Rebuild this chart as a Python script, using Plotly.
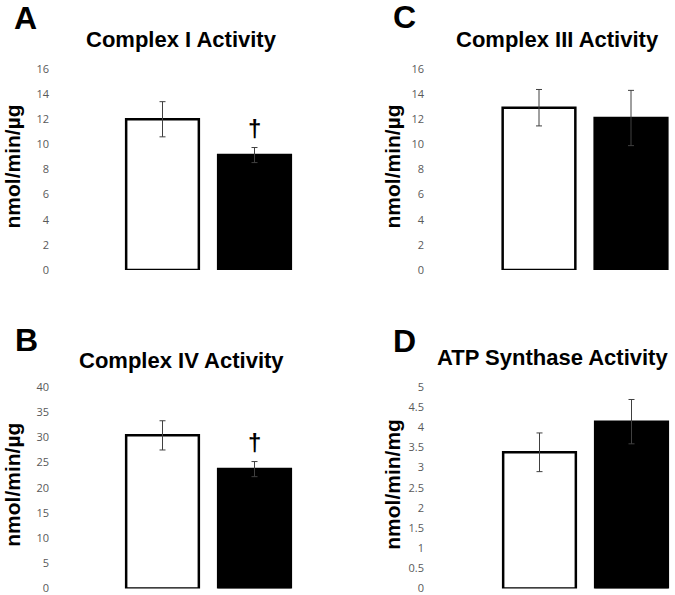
import plotly.graph_objects as go

W, H = 675, 595

# ── Data ─────────────────────────────────────────────────────────────────────
groups = ["Control", "Treated"]

complex1_mean = [12.0, 9.15]
complex1_err = [1.4, 0.6]

complex3_mean = [12.92, 12.1]
complex3_err = [1.45, 2.2]

complex4_mean = [30.4, 23.7]
complex4_err = [2.9, 1.5]

atp_mean = [3.38, 4.14]
atp_err = [0.48, 0.55]

bar_fill = ["white", "black"]
significant = [False, True]


def px_x(x):
    return x / W


def px_y(y):
    return 1 - y / H


fig = go.Figure()

# panel: letter, title, y title, means, errs, ymax, dtick,
#        x-domain px, y-domain px (bottom, top), first bar centre px,
#        letter pos, title pos, y-title x, daggers
panels = [
    ("A", "Complex I Activity", "nmol/min/µg", complex1_mean, complex1_err, 16, 2,
     (50, 300), (270, 69), 162.5, (25, 18), (181, 40), 13, True),
    ("C", "Complex III Activity", "nmol/min/µg", complex3_mean, complex3_err, 16, 2,
     (425, 675), (270, 69), 539.0, (404, 17), (557, 40), 393, False),
    ("B", "Complex IV Activity", "nmol/min/µg", complex4_mean, complex4_err, 40, 5,
     (50, 300), (588.5, 387), 162.5, (26, 340), (181, 360), 13, True),
    ("D", "ATP Synthase Activity", "nmol/min/mg", atp_mean, atp_err, 5, 0.5,
     (425, 675), (588.5, 387), 539.5, (404, 341), (552, 357), 393, False),
]

STEP = 92.0  # px between bar centres

for i, (letter, title, ytitle, means, errs, ymax, dtick, xd, yd, c0, lpos, tpos, ytx, dag) in enumerate(panels):
    n = "" if i == 0 else str(i + 1)
    xa, ya = "x" + n, "y" + n
    fig.add_trace(go.Bar(
        x=groups,
        y=means,
        xaxis=xa,
        yaxis=ya,
        width=0.79,
        marker=dict(color=bar_fill, line=dict(color="black", width=2.5)),
        error_y=dict(type="data", array=errs, visible=True,
                     color="#404040", thickness=1, width=3),
        showlegend=False,
        hoverinfo="skip",
    ))

    lo = -(c0 - xd[0]) / STEP
    hi = lo + (xd[1] - xd[0]) / STEP
    fig.layout["xaxis" + n] = dict(
        domain=[px_x(xd[0]), px_x(xd[1])],
        anchor=ya,
        range=[lo, hi],
        showticklabels=False,
        showgrid=False,
        zeroline=False,
        showline=False,
        ticks="",
    )
    fig.layout["yaxis" + n] = dict(
        domain=[px_y(yd[0]), px_y(yd[1])],
        anchor=xa,
        range=[0, ymax],
        dtick=dtick,
        showgrid=False,
        zeroline=False,
        showline=False,
        ticks="",
        ticklabeloverflow="allow",
        tickfont=dict(family="Open Sans", size=11, color="#595959"),
    )

    fig.add_annotation(text=f"<b>{letter}</b>", xref="paper", yref="paper",
                       x=px_x(lpos[0]), y=px_y(lpos[1]), xanchor="center", yanchor="middle",
                       showarrow=False,
                       font=dict(family="Liberation Sans", size=32, color="black"))
    fig.add_annotation(text=f"<b>{title}</b>", xref="paper", yref="paper",
                       x=px_x(tpos[0]), y=px_y(tpos[1]), xanchor="center", yanchor="middle",
                       showarrow=False,
                       font=dict(family="Liberation Sans", size=22, color="black"))
    fig.add_annotation(text=f"<b>{ytitle}</b>", xref="paper", yref="paper",
                       x=px_x(ytx), y=(px_y(yd[0]) + px_y(yd[1])) / 2 + 0.005,
                       xanchor="center", yanchor="middle",
                       textangle=-90, showarrow=False,
                       font=dict(family="Liberation Sans", size=21, color="black"))

    if dag:
        for g, m, e, s in zip(groups, means, errs, significant):
            if s:
                fig.add_annotation(text="<b>†</b>", xref=xa, yref=ya, x=g, y=m + e,
                                   xanchor="center", yanchor="bottom", yshift=4, showarrow=False,
                                   font=dict(family="Liberation Sans", size=24, color="black"))

fig.update_layout(
    width=W,
    height=H,
    margin=dict(l=0, r=0, t=0, b=0, autoexpand=False),
    paper_bgcolor="white",
    plot_bgcolor="white",
    bargap=0.21,
)

fig.write_html("out.html", config={"displayModeBar": False},
               post_script="document.body.style.margin='0';")
